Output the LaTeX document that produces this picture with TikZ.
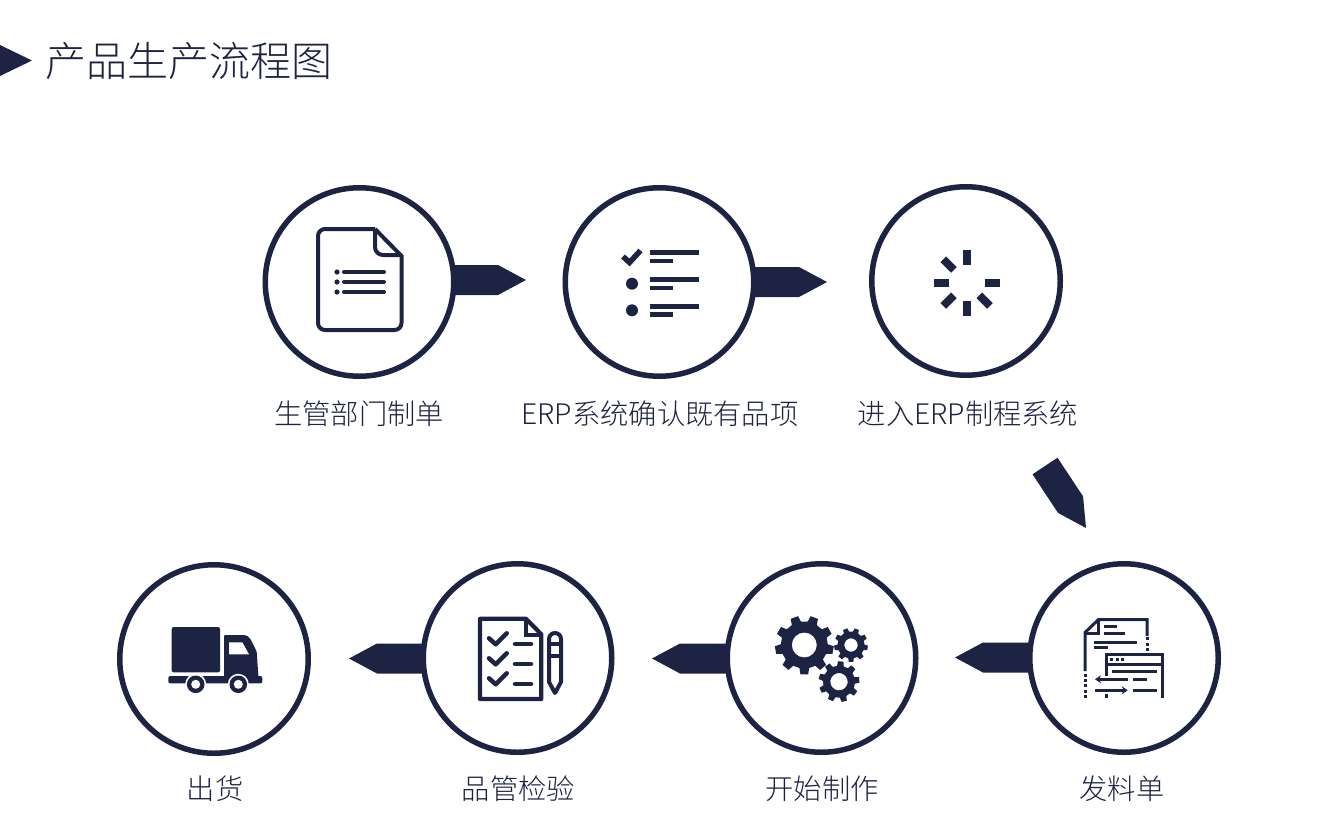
\documentclass[tikz,border=0pt]{standalone}
\usepackage{fontspec}
\setmainfont{Noto Sans CJK SC}[UprightFont=* Light]
\usetikzlibrary{arrows.meta,calc}
\definecolor{navy}{HTML}{1D2443}

\tikzset{
    stepcircle/.style={circle,draw=navy,fill=white,line width=5.5pt,inner sep=0pt,minimum size=188.5pt},
    steplabel/.style={text=navy,font=\fontsize{28.3}{32}\selectfont,inner sep=0pt},
    iconline/.style={draw=navy,line width=#1},
    iconline/.default=3pt
}

% block arrow: tail coordinate, tip coordinate
\newcommand{\blockarrow}[2]{
    \coordinate (hb) at ($(#2)!28pt!(#1)$);
    \fill[navy] (#2) -- ($(hb)!15pt!90:(#2)$) -- ($(#1)!15pt!90:(#2)$) -- ($(#1)!15pt!-90:(#2)$) -- ($(hb)!15pt!-90:(#2)$) -- cycle;
}
% gear: x, y, outer radius, root radius, hole radius, teeth, rotation
\newcommand{\gearicon}[7]{
    \begin{scope}[shift={(#1,#2)},rotate=#7]
        \fill[navy,even odd rule] (-0.3*360/#6:#4)
            foreach \t in {1,...,#6} {
                -- ({(\t-1)*360/#6-0.19*360/#6}:#3) -- ({(\t-1)*360/#6+0.19*360/#6}:#3)
                -- ({(\t-1)*360/#6+0.3*360/#6}:#4) -- ({\t*360/#6-0.3*360/#6}:#4)
            } -- cycle (0,0) circle (#5);
    \end{scope}
}

\begin{document}
\begin{tikzpicture}[x=1pt,y=-1pt]
    \useasboundingbox (0,0) rectangle (1340,825);

    % title
    \fill[navy] (0,45) -- (32,60.5) -- (0,76) -- cycle;
    \node[anchor=west,text=navy,inner sep=0pt,font=\fontsize{41}{46}\selectfont] (title) at (45.5,61) {产品生产流程图};

    % arrows, the circles cover their tails
    \coordinate (a1) at (430,280);    \coordinate (t1) at (526,280);
    \coordinate (a2) at (730,282);    \coordinate (t2) at (827,282);
    \coordinate (a3) at (1045,466);   \coordinate (t3) at (1086,528);
    \coordinate (a4) at (1060,657.5); \coordinate (t4) at (955,657.5);
    \coordinate (a5) at (760,658.5);  \coordinate (t5) at (652,658.5);
    \coordinate (a6) at (455,658.5);  \coordinate (t6) at (349,658.5);
    \foreach \i in {1,...,6} {
        \blockarrow{a\i}{t\i}
    }

    % circles
    \node[stepcircle] (c1) at (359.5,282) {};
    \node[stepcircle] (c2) at (659.5,282) {};
    \node[stepcircle] (c3) at (966,281) {};
    \node[stepcircle] (c4) at (1124,658) {};
    \node[stepcircle] (c5) at (821.5,658) {};
    \node[stepcircle] (c6) at (517.5,658) {};
    \node[stepcircle] (c7) at (214,659) {};

    % labels
    \node[steplabel] (l1) at (359,414) {生管部门制单};
    \node[steplabel] (l2) at (660,414) {ERP系统确认既有品项};
    \node[steplabel] (l3) at (968,414) {进入ERP制程系统};
    \node[steplabel] (l4) at (1122,789) {发料单};
    \node[steplabel] (l5) at (822,789) {开始制作};
    \node[steplabel] (l6) at (518.5,789) {品管检验};
    \node[steplabel] (l7) at (215,789) {出货};

    % document icon
    \draw[iconline=4pt,rounded corners=7pt] (375,229) -- (318,229) -- (318,330) -- (401.5,330) -- (401.5,255);
    \draw[iconline=4pt,line join=round] (401.5,256) -- (375,229);
    \draw[iconline=4pt,rounded corners=8pt] (375,229) -- (375,255) -- (401.5,255);
    \foreach \y in {272,282,292} {
        \draw[iconline=4pt,line cap=round] (344,\y) -- (384,\y);
        \fill[navy] (337,\y) circle (2.6);
    }

    % checklist icon
    \draw[iconline=5.5pt] (623,256.5) -- (629.5,262.5) -- (640.5,250.5);
    \foreach \y in {252.7,279.7,306.3} {
        \draw[iconline=4.5pt] (649.5,\y) -- (699,\y);
        \draw[iconline=4.5pt] (649.5,\y+8.4) -- (673,\y+8.4);
    }
    \fill[navy] (632,283.7) circle (6);
    \fill[navy] (632,310.3) circle (6);

    % spinner icon
    \foreach \a in {0,45,90,135,180,225,270} {
        \draw[iconline=8pt] ($(966.6,282.6)+(\a:18)$) -- ($(966.6,282.6)+(\a:33)$);
    }

    % order sheet icon
    \draw[iconline=3pt] (1085,671) -- (1085,632.5) -- (1098.5,619.5) -- (1147,619.5) -- (1147,636);
    \draw[iconline=3pt] (1098.5,619.5) -- (1098.5,633) -- (1085,633);
    \draw[iconline=3pt] (1104,626) -- (1117.3,626);
    \draw[iconline=3pt] (1104,633) -- (1125,633);
    \draw[iconline=3pt] (1094.3,642.3) -- (1136.7,642.3);
    \draw[iconline=3pt] (1094.3,647.7) -- (1107.7,647.7);
    \foreach \y in {638.5,644,649.5} {
        \fill[navy] (1145.5,\y-1.5) rectangle (1148.5,\y+1.5);
    }
    \foreach \y in {675,680.3,685.7,691,696.3} {
        \fill[navy] (1083.5,\y-1.5) rectangle (1086.5,\y+1.5);
    }
    \draw[iconline=3pt] (1106,675.7) -- (1106,654.3) -- (1162.7,654.3) -- (1162.7,698.3);
    \draw[iconline=3pt] (1106,664.3) -- (1162.7,664.3);
    \foreach \x in {1111.7,1117.3,1122.3} {
        \fill[navy] (\x-1.5,657.5) rectangle (\x+1.5,660.5);
    }
    \draw[iconline=3pt] (1111.7,671.7) -- (1157.3,671.7);
    \draw[iconline=3pt,{Stealth[length=6pt,width=8pt]}-] (1095,679.3) -- (1128.3,679.3);
    \draw[iconline=3pt] (1133.3,679.3) -- (1146.7,679.3);
    \draw[iconline=3pt,-{Stealth[length=6pt,width=8pt]}] (1095,690.3) -- (1127.7,690.3);
    \draw[iconline=3pt] (1133.3,690.3) -- (1157.3,690.3);
    \draw[iconline=3pt] (1106.7,694.3) -- (1106.7,698.3);

    % gears icon
    \gearicon{804.3}{645}{29.5}{23.5}{12.5}{9}{-90}
    \gearicon{851}{645}{17}{13.5}{6.7}{9}{-90}
    \gearicon{839}{681.7}{20.5}{16}{8.7}{9}{-75}

    % quality check icon
    \draw[iconline=4.2pt,line join=round] (526,618.8) -- (480,618.8) -- (480,699) -- (541.3,699) -- (541.3,634.3) -- cycle;
    \draw[iconline=4pt] (526,618.8) -- (526,634.5) -- (541.3,634.5);
    \foreach \y in {0,20,40} {
        \draw[iconline=4.5pt,line cap=round,line join=round] (489,638.3+\y) -- (495.7,644.3+\y) -- (506.7,633.3+\y);
        \draw[iconline=4.5pt,line cap=round] (515,644+\y) -- (531,644+\y);
    }
    \draw[iconline=4pt,line join=round] (549,682) -- (549,639) arc (180:360:6) -- (561,682) -- (555,693) -- cycle;
    \draw[iconline=4pt] (549,644.3) -- (561,644.3);
    \draw[iconline=4pt] (549,655.7) -- (561,655.7);

    % truck icon
    \fill[navy,rounded corners=2pt] (171.7,627) rectangle (220,672.3);
    \fill[navy,rounded corners=2pt] (168.3,676) rectangle (262.3,683.3);
    \fill[navy,rounded corners=1pt] (224,635) -- (243.3,635) .. controls (247,635) and (249,637) .. (251,640) -- (256.7,651.7) -- (258.5,678) -- (224,678) -- cycle;
    \fill[white] (229,642.3) -- (242.3,642.3) -- (249,654.3) -- (229,654.3) -- cycle;
    \foreach \x in {195.7,238.3} {
        \fill[white] (\x,684.3) circle (10.5);
        \fill[navy] (\x,684.3) circle (8.8);
        \fill[white] (\x,684.3) circle (4.5);
    }
\end{tikzpicture}
\end{document}
